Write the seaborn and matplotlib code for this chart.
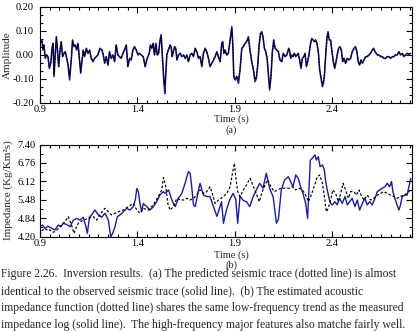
import numpy as np
import pandas as pd
import matplotlib
matplotlib.use("Agg")
import matplotlib.pyplot as plt
from matplotlib.ticker import FixedLocator
import seaborn as sns

# ---------------- data: (a) seismic traces ----------------
seis_time = [
    0.903, 0.910, 0.915, 0.920, 0.927, 0.934, 0.941, 0.948, 0.955, 0.962,
    0.967, 0.972, 0.979, 0.984, 0.989, 0.996, 1.003, 1.009, 1.016, 1.023,
    1.030, 1.037, 1.044, 1.052, 1.061, 1.067, 1.074, 1.081, 1.088, 1.095,
    1.102, 1.109, 1.115, 1.122, 1.129, 1.138, 1.146, 1.155, 1.163, 1.172,
    1.180, 1.189, 1.197, 1.208, 1.218, 1.225, 1.232, 1.240, 1.249, 1.257,
    1.266, 1.274, 1.283, 1.291, 1.300, 1.308, 1.317, 1.326, 1.334, 1.343,
    1.351, 1.360, 1.368, 1.377, 1.385, 1.394, 1.403, 1.411, 1.420, 1.430,
    1.440, 1.450, 1.461, 1.467, 1.474, 1.481, 1.488, 1.495, 1.502, 1.509,
    1.515, 1.522, 1.529, 1.536, 1.541, 1.546, 1.551, 1.556, 1.562, 1.568,
    1.573, 1.579, 1.584, 1.591, 1.597, 1.603, 1.611, 1.620, 1.628, 1.637,
    1.645, 1.654, 1.662, 1.671, 1.679, 1.688, 1.697, 1.705, 1.714, 1.722,
    1.731, 1.739, 1.748, 1.756, 1.765, 1.773, 1.782, 1.791, 1.799, 1.808,
    1.816, 1.825, 1.833, 1.838, 1.844, 1.850, 1.859, 1.867, 1.876, 1.881,
    1.885, 1.890, 1.895, 1.902, 1.910, 1.919, 1.927, 1.936, 1.944, 1.953,
    1.961, 1.970, 1.979, 1.987, 1.996, 2.004, 2.011, 2.018, 2.025, 2.032,
    2.038, 2.045, 2.052, 2.059, 2.066, 2.073, 2.079, 2.086, 2.093, 2.100,
    2.107, 2.115, 2.124, 2.132, 2.141, 2.149, 2.158, 2.167, 2.172, 2.177,
    2.182, 2.187, 2.192, 2.199, 2.206, 2.213, 2.220, 2.226, 2.233, 2.240,
    2.247, 2.254, 2.261, 2.268, 2.274, 2.281, 2.288, 2.295, 2.302, 2.309,
    2.315, 2.322, 2.329, 2.336, 2.343, 2.350, 2.355, 2.360, 2.367, 2.373,
    2.379, 2.385, 2.392, 2.399, 2.406, 2.413, 2.420, 2.426, 2.433, 2.440,
    2.447, 2.454, 2.461, 2.469, 2.478, 2.486, 2.495, 2.503, 2.512, 2.520,
    2.527, 2.534, 2.541, 2.548, 2.555, 2.563, 2.572, 2.580, 2.589, 2.597,
    2.606, 2.613, 2.620, 2.626, 2.633, 2.640, 2.649, 2.657, 2.666, 2.675,
    2.683, 2.692, 2.700, 2.709, 2.717, 2.726, 2.734, 2.743, 2.751, 2.760,
    2.768, 2.777, 2.785, 2.794, 2.803,
]
seis_observed = [
    0.056, 0.063, 0.021, 0.042, -0.014, 0.000, -0.007, -0.056, -0.035, 0.028,
    0.049, -0.090, 0.014, 0.076, 0.028, -0.049, 0.021, 0.056, -0.007, 0.007,
    0.014, -0.014, -0.042, -0.104, -0.014, 0.063, 0.035, 0.042, 0.021, 0.049,
    -0.014, -0.076, -0.028, 0.021, -0.007, 0.028, 0.007, 0.021, -0.014, -0.028,
    -0.014, -0.007, 0.000, 0.028, 0.021, 0.000, -0.035, -0.007, -0.042, 0.014,
    -0.014, 0.000, -0.028, 0.042, 0.000, -0.007, -0.014, 0.007, 0.021, 0.042,
    -0.049, -0.014, -0.021, 0.021, 0.035, 0.021, 0.000, 0.007, 0.000, -0.007,
    -0.049, -0.014, 0.007, 0.042, 0.028, 0.049, 0.000, 0.049, 0.000, 0.007,
    0.056, 0.085, -0.014, -0.111, -0.160, -0.083, 0.000, 0.014, 0.028, 0.042,
    0.035, -0.007, 0.014, 0.035, 0.028, -0.021, 0.000, 0.007, -0.007, 0.000,
    -0.014, 0.000, -0.028, 0.000, 0.007, -0.007, 0.028, 0.014, -0.014, -0.007,
    -0.049, 0.007, 0.028, 0.014, -0.014, -0.049, -0.035, -0.021, -0.007, 0.014,
    -0.007, -0.028, 0.049, 0.056, 0.007, 0.021, 0.000, 0.007, 0.063, 0.097,
    0.118, 0.042, -0.090, -0.104, -0.090, -0.118, -0.063, 0.028, 0.035, 0.049,
    0.056, 0.076, 0.014, -0.028, -0.063, -0.111, -0.097, -0.042, 0.042, 0.090,
    0.097, 0.076, 0.028, 0.014, -0.014, -0.083, -0.146, -0.090, 0.014, 0.063,
    0.028, 0.021, 0.014, -0.021, -0.028, 0.007, -0.007, 0.000, 0.014, 0.028,
    0.014, -0.014, 0.000, -0.007, 0.007, -0.007, 0.000, 0.007, -0.021, -0.056,
    -0.014, -0.007, 0.007, -0.049, -0.028, 0.000, 0.042, 0.069, 0.063, 0.056,
    0.063, 0.049, 0.014, -0.063, -0.097, -0.132, -0.118, -0.090, 0.000, 0.069,
    0.097, 0.063, 0.063, 0.014, -0.028, -0.056, -0.028, 0.000, 0.028, 0.035,
    0.021, -0.028, -0.014, -0.035, -0.014, -0.021, -0.014, 0.014, 0.028, 0.035,
    0.014, -0.028, -0.042, -0.021, -0.035, -0.021, -0.007, -0.007, 0.000, 0.007,
    0.021, 0.028, 0.014, 0.007, 0.000, 0.000, -0.007, -0.007, -0.014, -0.014,
    -0.007, -0.007, -0.014, -0.007, -0.007, 0.000, 0.000, 0.014, 0.000, 0.007,
    -0.007, 0.000, 0.007, 0.003, 0.007,
]
seis_predicted = [
    0.052, 0.060, 0.024, 0.040, -0.010, 0.000, -0.007, -0.050, -0.033, 0.026,
    0.047, -0.080, 0.012, 0.072, 0.030, -0.045, 0.020, 0.052, -0.005, 0.007,
    0.012, -0.012, -0.040, -0.088, -0.016, 0.058, 0.037, 0.040, 0.023, 0.046,
    -0.012, -0.070, -0.030, 0.019, -0.005, 0.026, 0.008, 0.019, -0.012, -0.026,
    -0.014, -0.007, 0.000, 0.026, 0.021, 0.000, -0.032, -0.009, -0.040, 0.012,
    -0.012, 0.000, -0.026, 0.040, 0.002, -0.007, -0.012, 0.007, 0.021, 0.040,
    -0.045, -0.016, -0.019, 0.019, 0.033, 0.021, 0.002, 0.007, 0.000, -0.007,
    -0.045, -0.016, 0.007, 0.040, 0.028, 0.047, 0.002, 0.045, 0.002, 0.007,
    0.052, 0.078, -0.010, -0.100, -0.125, -0.075, 0.000, 0.014, 0.026, 0.040,
    0.033, -0.005, 0.012, 0.033, 0.026, -0.019, 0.000, 0.007, -0.005, 0.000,
    -0.012, 0.000, -0.026, 0.000, 0.007, -0.005, 0.026, 0.014, -0.012, -0.007,
    -0.045, 0.005, 0.026, 0.014, -0.012, -0.045, -0.035, -0.021, -0.007, 0.012,
    -0.007, -0.026, 0.045, 0.052, 0.009, 0.019, 0.000, 0.009, 0.060, 0.094,
    0.108, 0.045, -0.085, -0.100, -0.088, -0.105, -0.060, 0.026, 0.035, 0.047,
    0.054, 0.072, 0.016, -0.026, -0.060, -0.100, -0.092, -0.040, 0.040, 0.085,
    0.094, 0.074, 0.030, 0.014, -0.012, -0.078, -0.135, -0.085, 0.012, 0.060,
    0.030, 0.021, 0.012, -0.019, -0.026, 0.005, -0.005, 0.000, 0.012, 0.026,
    0.014, -0.012, 0.000, -0.005, 0.007, -0.005, 0.000, 0.007, -0.019, -0.050,
    -0.016, -0.007, 0.005, -0.045, -0.028, 0.002, 0.040, 0.066, 0.063, 0.056,
    0.060, 0.047, 0.014, -0.060, -0.092, -0.122, -0.112, -0.085, 0.002, 0.066,
    0.092, 0.065, 0.060, 0.016, -0.026, -0.052, -0.028, 0.000, 0.026, 0.033,
    0.021, -0.026, -0.014, -0.033, -0.014, -0.019, -0.012, 0.012, 0.026, 0.033,
    0.014, -0.026, -0.040, -0.021, -0.033, -0.021, -0.007, -0.005, 0.000, 0.007,
    0.019, 0.026, 0.014, 0.007, 0.000, 0.000, -0.005, -0.007, -0.012, -0.014,
    -0.007, -0.007, -0.012, -0.007, -0.005, 0.000, 0.002, 0.012, 0.002, 0.007,
    -0.005, 0.000, 0.007, 0.003, 0.007,
]

# ---------------- data: (b) impedance ----------------
log_time = [
    0.900, 0.912, 0.926, 0.940, 0.951, 0.965, 0.977, 0.994, 1.008, 1.019,
    1.036, 1.054, 1.071, 1.088, 1.105, 1.122, 1.136, 1.143, 1.154, 1.165,
    1.182, 1.200, 1.217, 1.234, 1.251, 1.263, 1.273, 1.285, 1.297, 1.311,
    1.328, 1.345, 1.362, 1.379, 1.390, 1.397, 1.405, 1.413, 1.422, 1.430,
    1.448, 1.465, 1.482, 1.499, 1.516, 1.533, 1.543, 1.560, 1.577, 1.594,
    1.611, 1.628, 1.645, 1.662, 1.671, 1.679, 1.688, 1.697, 1.714, 1.722,
    1.739, 1.756, 1.773, 1.791, 1.808, 1.818, 1.832, 1.842, 1.857, 1.874,
    1.891, 1.905, 1.915, 1.927, 1.944, 1.960, 1.977, 1.994, 2.011, 2.028,
    2.045, 2.062, 2.079, 2.097, 2.114, 2.124, 2.139, 2.156, 2.175, 2.187,
    2.199, 2.213, 2.226, 2.238, 2.250, 2.264, 2.274, 2.281, 2.288, 2.298,
    2.312, 2.319, 2.329, 2.338, 2.350, 2.360, 2.367, 2.375, 2.384, 2.392,
    2.401, 2.414, 2.426, 2.438, 2.452, 2.466, 2.478, 2.490, 2.503, 2.517,
    2.529, 2.541, 2.555, 2.568, 2.580, 2.592, 2.606, 2.620, 2.632, 2.644,
    2.657, 2.671, 2.683, 2.695, 2.705, 2.712, 2.722, 2.733, 2.743, 2.751,
    2.760, 2.773, 2.785, 2.794, 2.804,
]
log_impedance = [
    4.54, 4.60, 4.48, 4.56, 4.52, 4.47, 4.43, 4.60, 4.55, 4.66,
    4.62, 4.54, 4.77, 4.83, 4.77, 4.87, 4.54, 4.31, 4.87, 4.95,
    5.12, 4.95, 4.87, 5.01, 4.77, 4.19, 4.31, 4.54, 4.89, 4.95,
    5.06, 5.18, 5.12, 5.24, 5.50, 5.87, 5.76, 5.35, 5.06, 5.35,
    5.24, 5.12, 5.24, 5.41, 5.64, 5.76, 5.70, 5.82, 5.47, 5.24,
    5.53, 5.70, 6.05, 6.46, 6.40, 5.93, 5.30, 5.24, 5.82, 6.05,
    5.64, 5.59, 5.59, 5.24, 4.90, 5.10, 5.41, 4.66, 5.12, 5.47,
    5.70, 5.50, 4.66, 5.60, 5.45, 5.41, 5.24, 5.58, 5.82, 6.05,
    5.88, 6.40, 5.88, 5.58, 4.66, 4.80, 5.82, 6.17, 6.28, 6.11,
    5.93, 6.34, 6.22, 5.93, 5.70, 5.35, 4.83, 5.82, 6.86, 6.92,
    7.04, 6.86, 6.98, 6.63, 6.69, 6.51, 6.11, 5.82, 5.53, 5.35,
    5.30, 5.41, 5.30, 5.53, 5.35, 5.59, 5.30, 5.41, 5.53, 5.24,
    5.47, 5.12, 5.35, 5.53, 5.30, 5.41, 5.30, 5.53, 5.76, 5.82,
    5.88, 5.93, 6.05, 5.93, 6.11, 5.76, 5.53, 5.30, 5.12, 5.30,
    5.59, 5.64, 5.64, 5.93, 6.22,
]
est_time = [
    0.900, 0.910, 0.926, 0.940, 0.951, 0.965, 0.977, 0.990, 1.003, 1.028,
    1.045, 1.062, 1.074, 1.085, 1.097, 1.122, 1.148, 1.174, 1.191, 1.208,
    1.222, 1.234, 1.251, 1.268, 1.285, 1.302, 1.328, 1.353, 1.379, 1.397,
    1.413, 1.430, 1.456, 1.482, 1.507, 1.525, 1.534, 1.546, 1.556, 1.568,
    1.585, 1.603, 1.620, 1.637, 1.654, 1.671, 1.688, 1.705, 1.722, 1.739,
    1.756, 1.773, 1.785, 1.799, 1.816, 1.830, 1.842, 1.859, 1.876, 1.888,
    1.898, 1.905, 1.915, 1.927, 1.944, 1.961, 1.979, 1.996, 2.013, 2.026,
    2.038, 2.056, 2.069, 2.086, 2.103, 2.120, 2.138, 2.155, 2.179, 2.196,
    2.213, 2.230, 2.247, 2.264, 2.278, 2.290, 2.307, 2.324, 2.336, 2.350,
    2.360, 2.370, 2.380, 2.392, 2.404, 2.418, 2.432, 2.444, 2.456, 2.469,
    2.483, 2.495, 2.512, 2.524, 2.538, 2.551, 2.565, 2.580, 2.597, 2.615,
    2.632, 2.649, 2.666, 2.683, 2.700, 2.717, 2.734, 2.751, 2.768, 2.785,
    2.803,
]
est_impedance = [
    4.25, 4.40, 4.48, 4.40, 4.43, 4.35, 4.37, 4.45, 4.54, 4.72,
    4.89, 4.60, 4.31, 4.50, 4.66, 4.77, 4.83, 4.89, 4.77, 4.95,
    5.10, 5.18, 5.06, 4.95, 5.01, 5.06, 5.12, 5.24, 5.35, 5.12,
    5.01, 5.18, 5.12, 5.30, 5.58, 5.82, 6.25, 5.93, 5.35, 5.12,
    5.24, 5.53, 5.47, 5.47, 5.53, 5.47, 5.53, 5.64, 5.82, 5.70,
    5.76, 5.93, 5.70, 5.35, 5.47, 5.53, 5.59, 5.70, 5.93, 6.40,
    6.75, 6.28, 5.76, 5.59, 5.82, 6.00, 6.22, 5.93, 5.64, 5.41,
    5.70, 6.00, 6.17, 5.93, 5.76, 5.82, 5.88, 5.88, 5.88, 5.93,
    5.82, 5.88, 5.82, 5.64, 5.41, 5.59, 5.93, 6.28, 6.34, 6.05,
    5.59, 5.06, 5.18, 5.47, 5.82, 5.70, 5.41, 5.70, 6.05, 5.82,
    5.53, 5.76, 5.76, 5.64, 5.82, 5.59, 5.47, 5.64, 5.47, 5.53,
    5.64, 5.70, 5.76, 5.70, 5.64, 5.59, 5.53, 5.59, 5.64, 5.70,
    5.82,
]

x_ticks = [0.9, 1.4, 1.9, 2.4]
amp_ticks = [-0.20, -0.10, 0.00, 0.10, 0.20]
imp_ticks = [4.20, 4.84, 5.48, 6.12, 6.76, 7.40]

caption_lines = [
    "Figure 2.26.  Inversion results.  (a) The predicted seismic trace (dotted line) is almost",
    "identical to the observed seismic trace (solid line).  (b) The estimated acoustic",
    "impedance function (dotted line) shares the same low-frequency trend as the measured",
    "impedance log (solid line).  The high-frequency major features also matche fairly well.",
]

# ---------------- styling ----------------
sns.set_style("ticks")
plt.rcParams["font.family"] = ["Liberation Serif", "DejaVu Serif"]
plt.rcParams["font.size"] = 7.5
plt.rcParams["axes.linewidth"] = 0.8

W, H = 418, 331
fig = plt.figure(figsize=(W / 100, H / 100), dpi=100)
fig.patch.set_facecolor("white")

def ax_rect(left, top, right, bottom):
    return [left / W, 1 - bottom / H, (right - left) / W, (bottom - top) / H]

ax1 = fig.add_axes(ax_rect(40, 7, 412, 103))
ax2 = fig.add_axes(ax_rect(40, 144.5, 412, 236.5))

BLUE = "#1c1c9c"

df_a = pd.DataFrame({"t": seis_time, "obs": seis_observed, "pred": seis_predicted})
sns.lineplot(data=df_a, x="t", y="obs", ax=ax1, color=BLUE, lw=1.15,
             estimator=None, sort=False)
sns.lineplot(data=df_a, x="t", y="pred", ax=ax1, color="black", lw=0.75,
             linestyle=(0, (2, 0.8)), estimator=None, sort=False)

df_log = pd.DataFrame({"t": log_time, "imp": log_impedance})
df_est = pd.DataFrame({"t": est_time, "imp": est_impedance})
sns.lineplot(data=df_log, x="t", y="imp", ax=ax2, color=BLUE, lw=1.0,
             estimator=None, sort=False)
sns.lineplot(data=df_est, x="t", y="imp", ax=ax2, color="black", lw=0.85,
             linestyle=(0, (2.2, 1.6)), estimator=None, sort=False)

xminor = np.round(np.arange(0.9, 2.8101, 0.05), 3)

for ax, yt, yminor, ypad in (
    (ax1, amp_ticks, np.linspace(-0.2, 0.2, 13), 4.5),
    (ax2, imp_ticks, np.linspace(4.2, 7.4, 11), 3.0),
):
    ax.set_xlim(0.9, 2.81)
    ax.set_ylim(yt[0], yt[-1])
    ax.set_xticks(x_ticks)
    ax.set_xticklabels([f"{v:.1f}" for v in x_ticks])
    ax.set_yticks(yt)
    ax.set_yticklabels([f"{v:.2f}" for v in yt])
    ax.xaxis.set_minor_locator(FixedLocator(xminor))
    ax.yaxis.set_minor_locator(FixedLocator(yminor))
    ax.tick_params(which="both", direction="in", top=True, right=True,
                   width=0.8, colors="black", labelsize=7.5)
    ax.tick_params(axis="x", which="major", pad=1.8)
    ax.tick_params(axis="y", which="major", pad=ypad)
    ax.tick_params(which="major", length=4)
    ax.tick_params(which="minor", length=2.5)
    ax.set_xlabel("")
    ax.set_ylabel("")
    for s in ax.spines.values():
        s.set_color("black")
        s.set_visible(True)
    ax.set_facecolor("white")

def ftext(x, y, s, **kw):
    fig.text(x / W, 1 - y / H, s, **kw)

ftext(7, 55, "Amplitude", ha="center", va="center", rotation=90, fontsize=8)
ftext(8, 190.5, "Impedance (Kg/Km²s)", ha="center", va="center", rotation=90,
      fontsize=8)

ftext(231, 119.5, "Time (s)", ha="center", va="center", fontsize=7.5)
ftext(231, 130.5, "(a)", ha="center", va="center", fontsize=7.5)
ftext(231, 255, "Time (s)", ha="center", va="center", fontsize=7.5)
ftext(231, 265, "(b)", ha="center", va="center", fontsize=7.5)

for i, line in enumerate(caption_lines):
    ftext(1, 274.5 + i * 16.7, line, ha="left", va="center", fontsize=8.4)

fig.savefig("out.png", dpi=100, facecolor="white")
